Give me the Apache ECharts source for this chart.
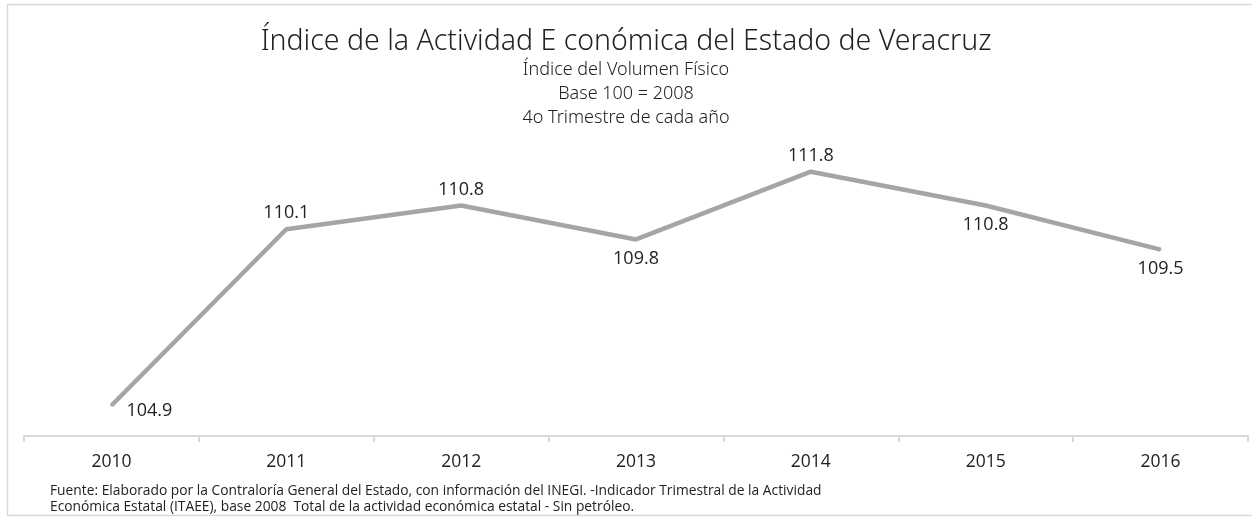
<!DOCTYPE html>
<html lang="es">
<head>
    <meta charset="UTF-8">
    <title>ITAEE Veracruz</title>
    <script src="https://cdn.jsdelivr.net/npm/echarts@6/dist/echarts.min.js"></script>
    <style>
        html, body { margin: 0; padding: 0; background: #fff; }
        #box { width: 1252px; height: 519px; }
    </style>
</head>
<body>
    <div id="box"></div>
    <script>
        // datos
        var years = ['2010', '2011', '2012', '2013', '2014', '2015', '2016'];
        var values = [104.9, 110.1, 110.8, 109.8, 111.8, 110.8, 109.5];
        // posición de cada etiqueta (arriba / abajo / derecha)
        var labelPos = ['right', 'top', 'top', 'bottom', 'top', 'bottom', 'bottom'];

        var titleFont = '"Noto Sans", sans-serif';
        var bodyFont = '"Open Sans", "Noto Sans", sans-serif';

        var myChart = echarts.init(document.getElementById('box'));

        var seriesData = values.map(function (v, i) {
            var lbl = { show: true, position: labelPos[i] };
            if (labelPos[i] === 'right') { lbl.distance = 5; lbl.offset = [9, 5]; }
            if (labelPos[i] === 'top') lbl.distance = 6;
            if (labelPos[i] === 'bottom') lbl.distance = 9;
            return { value: v, label: lbl };
        });

        var option = {
            backgroundColor: '#ffffff',
            title: [
                {
                    text: 'Índice de la Actividad E conómica del Estado de Veracruz',
                    left: 'center',
                    top: 22,
                    textStyle: { fontFamily: titleFont, fontWeight: 300, fontSize: 28.5, color: '#222' }
                },
                {
                    text: 'Índice del Volumen Físico\nBase 100 = 2008\n4o Trimestre de cada año',
                    left: 'center',
                    top: 53,
                    textStyle: { fontFamily: titleFont, fontWeight: 300, fontSize: 18, lineHeight: 24, color: '#222' }
                }
            ],
            grid: { left: 24, right: 4, top: 131, bottom: 83 },
            xAxis: {
                type: 'category',
                data: years,
                boundaryGap: true,
                axisLine: { lineStyle: { color: '#d9d9d9', width: 2 } },
                axisTick: { show: true, length: 6, lineStyle: { color: '#d9d9d9', width: 2 } },
                axisLabel: { fontFamily: bodyFont, fontSize: 17.5, color: '#222', margin: 17 }
            },
            yAxis: {
                type: 'value',
                min: 104,
                max: 113,
                interval: 1,
                show: false,
                splitLine: { show: false }
            },
            series: [{
                type: 'line',
                data: seriesData,
                symbol: 'circle',
                symbolSize: 2,
                showSymbol: true,
                itemStyle: { color: '#a5a5a8' },
                lineStyle: { color: '#a5a5a8', width: 4.5 },
                label: {
                    show: true,
                    fontFamily: bodyFont,
                    fontSize: 18,
                    color: '#222',
                    formatter: function (p) { return p.value.toFixed(1); }
                }
            }],
            graphic: [
                {
                    type: 'rect',
                    shape: { x: 7.5, y: 4.5, width: 1260, height: 511 },
                    style: { fill: 'none', stroke: '#d9d9d9', lineWidth: 1.5 },
                    silent: true
                },
                {
                    type: 'text',
                    left: 50,
                    top: 483,
                    style: {
                        text: 'Fuente: Elaborado por la Contraloría General del Estado, con información del INEGI. -Indicador Trimestral de la Actividad\nEconómica Estatal (ITAEE), base 2008  Total de la actividad económica estatal - Sin petróleo.',
                        font: '13.8px ' + bodyFont,
                        lineHeight: 16,
                        fill: '#222'
                    }
                }
            ]
        };

        myChart.setOption(option);
    </script>
</body>
</html>
